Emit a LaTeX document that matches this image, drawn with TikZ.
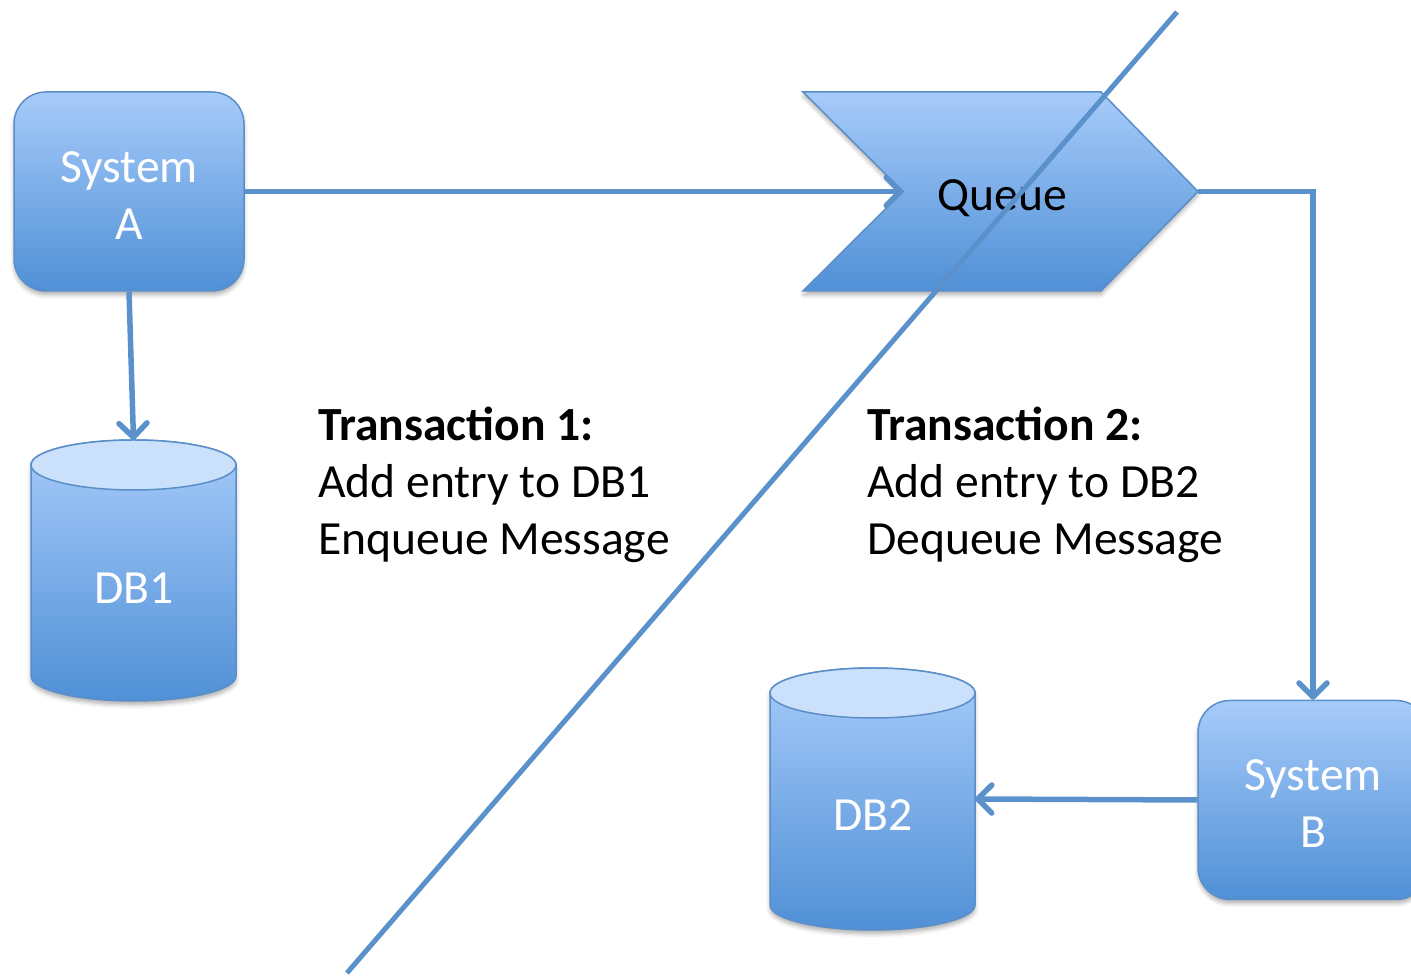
\documentclass[tikz,border=0pt]{standalone}
\usepackage{fontspec}
\setmainfont{Carlito}
\usetikzlibrary{arrows.meta,shadows.blur}

\definecolor{boxtop}{RGB}{167,203,250}
\definecolor{boxbot}{RGB}{80,144,214}
\definecolor{boxline}{RGB}{90,142,200}
\definecolor{lidfill}{RGB}{202,224,251}
\definecolor{wire}{RGB}{91,145,203}

\begin{document}
\begin{tikzpicture}[x=1pt,y=1pt,
  every node/.style={font=\fontsize{47.6}{57}\selectfont},
  softshadow/.style={blur shadow={shadow xshift=0pt,shadow yshift=-4pt,
      shadow opacity=30,shadow blur radius=4pt}},
  shaded/.style={top color=boxtop,bottom color=boxbot,draw=boxline,line width=1.5pt},
  sysbox/.style={shaded,rectangle,rounded corners=32pt,minimum width=230pt,
      minimum height=199pt,inner sep=0pt,softshadow},
  systext/.style={text=white,align=center,inner sep=0pt},
  lid/.style={fill=lidfill,draw=boxline,line width=1.5pt},
  conn/.style={draw=wire,line width=5.5pt,
      -{Straight Barb[length=14pt,width=28pt,line cap=round,line join=round]}},
  divider/.style={draw=wire,line width=5pt},
  note/.style={anchor=north west,inner sep=0pt,align=left,text=black},
]
\useasboundingbox (0,0) rectangle (1411,976);

% systems
\node[sysbox] (sysA) at (129,784.5) {};
\node[systext] (sysAlabel) at ([yshift=-4pt]sysA.center) {System\\A};
\node[sysbox] (sysB) at (1313,176) {};
\node[systext] (sysBlabel) at ([yshift=-4pt]sysB.center) {System\\B};

% database DB1
\path[shaded,softshadow] (31,511) -- (31,300)
  arc[start angle=180,end angle=360,x radius=102.5pt,y radius=25pt]
  -- (236,511)
  arc[start angle=0,end angle=180,x radius=102.5pt,y radius=25pt] -- cycle;
\path[lid] (133.5,511) ellipse[x radius=102.5pt,y radius=25pt];
\coordinate (db1top) at (133.5,536);
\node[text=white] (db1) at (134,388) {DB1};

% database DB2
\path[shaded,softshadow] (770,283) -- (770,71)
  arc[start angle=180,end angle=360,x radius=102.5pt,y radius=25pt]
  -- (975,283)
  arc[start angle=0,end angle=180,x radius=102.5pt,y radius=25pt] -- cycle;
\path[lid] (872.5,283) ellipse[x radius=102.5pt,y radius=25pt];
\coordinate (db2right) at (975,177);
\node[text=white] (db2) at (873,161) {DB2};

% queue chevron
\path[shaded,softshadow] (803,884) -- (1101,884) -- (1198,784.5)
  -- (1101,685) -- (803,685) -- (903,784.5) -- cycle;
\coordinate (qnotch) at (903,784.5);
\coordinate (qtip) at (1198,784.5);
\node[text=black] (queue) at (1002,778) {Queue};

% message flow
\draw[conn] (sysA.south) -- (db1top);
\draw[conn] (sysA.east) -- (qnotch);
\draw[conn] (qtip) -| (sysB.north);
\draw[conn] (sysB.west) -- (db2right);

% transaction boundary
\coordinate (cutBot) at (347,3);
\coordinate (cutTop) at (1177,964);
\draw[divider] (cutBot) -- (cutTop);

% transaction notes
\node[note] (t1) at (318,569) {\textbf{Transaction 1:}\\Add entry to DB1\\Enqueue Message};
\node[note] (t2) at (867,569) {\textbf{Transaction 2:}\\Add entry to DB2\\Dequeue Message};
\end{tikzpicture}
\end{document}
